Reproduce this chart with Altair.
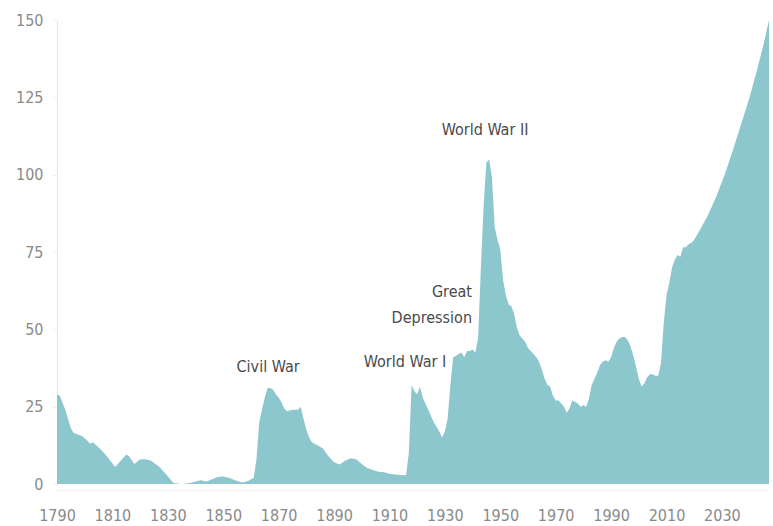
import altair as alt
import pandas as pd

years = [1790, 1791, 1793, 1795, 1796, 1799, 1801, 1802, 1803, 1806, 1808, 1811, 1813, 1815, 1816,
         1818, 1820, 1822, 1824, 1827, 1830, 1832, 1835, 1838, 1840, 1842, 1844, 1846, 1848, 1850,
         1852, 1855, 1857, 1859, 1861, 1862, 1863, 1864, 1865, 1866, 1867, 1868, 1869, 1870, 1871,
         1872, 1873, 1875, 1877, 1878, 1879, 1880, 1881, 1882, 1884, 1886, 1888, 1890, 1892, 1894,
         1896, 1898, 1900, 1902, 1904, 1906, 1908, 1910, 1913, 1916, 1917, 1918, 1919, 1920, 1921,
         1922, 1924, 1926, 1928, 1929, 1930, 1931, 1932, 1933, 1934, 1935, 1936, 1937, 1938, 1939,
         1940, 1941, 1942, 1943, 1944, 1945, 1946, 1947, 1948, 1949, 1950, 1951, 1952, 1953, 1954,
         1955, 1956, 1957, 1958, 1959, 1960, 1961, 1962, 1963, 1964, 1965, 1966, 1967, 1968, 1969,
         1970, 1971, 1972, 1973, 1974, 1975, 1976, 1977, 1978, 1979, 1980, 1981, 1982, 1983, 1984,
         1985, 1986, 1987, 1988, 1989, 1990, 1991, 1992, 1993, 1994, 1995, 1996, 1997, 1998, 1999,
         2000, 2001, 2002, 2003, 2004, 2005, 2006, 2007, 2008, 2009, 2010, 2011, 2012, 2013, 2014,
         2015, 2016, 2017, 2018, 2019, 2020, 2022, 2025, 2028, 2031, 2034, 2037, 2040, 2043, 2045,
         2047]
debt = [29, 28.5, 24, 18, 16.5, 15.5, 14, 13, 13.5, 11, 9, 5.5, 7.5, 9.5, 9,
        6.5, 8, 8, 7.5, 5.5, 2.5, 0.3, 0, 0.3, 0.8, 1.2, 0.8, 1.5, 2.3, 2.4,
        2, 1, 0.5, 1, 2, 8, 20, 24, 28, 31, 31, 30.5, 29, 28, 26.5,
        24.5, 23.5, 24, 24, 25, 21, 17.5, 15, 13.5, 12.5, 11.5, 9, 7, 6.3, 7.5,
        8.3, 8, 6.5, 5.2, 4.5, 4, 3.8, 3.3, 3, 2.8, 10, 32, 30, 29, 31.5,
        28, 24, 20, 17, 15, 17, 21, 32, 41, 41.5, 42, 42.5, 41, 43, 43,
        43.5, 42.5, 47, 70, 90, 104, 105, 99, 83, 79, 76, 66, 61, 58, 57.5,
        55, 50.5, 48, 47, 46, 44, 43, 42, 41, 39.5, 37, 34, 32, 31.5, 28.5,
        27, 27, 26, 25, 23, 24.5, 27, 26.5, 26, 25, 25.5, 25, 27.5, 32, 34,
        36, 38.5, 39.5, 40, 39.5, 41, 44, 46, 47, 47.5, 47.5, 46.5, 44.5, 41.5, 38,
        34, 31.5, 32.5, 34.5, 35.5, 35.5, 35, 35, 39, 52, 61, 65, 70, 72.5, 74,
        73.5, 76.5, 76.5, 77.5, 78, 79, 82, 87, 93, 100, 108, 116.5, 125, 135, 142,
        150]

label_text = ["Civil War", "World War I", "Great", "Depression", "World War II"]
label_year = [1866.2, 1915.6, 1939.8, 1939.8, 1944.5]
label_value = [37.8, 39.4, 62, 53.7, 114.5]
label_align = ["center", "center", "right", "right", "center"]

x_ticks = [1790, 1810, 1830, 1850, 1870, 1890, 1910, 1930, 1950, 1970, 1990, 2010, 2030]
y_ticks = [0, 25, 50, 75, 100, 125, 150]

FONT = "Liberation Sans Narrow, DejaVu Sans Condensed, Roboto, sans-serif"

df = pd.DataFrame({"year": years, "debt": debt})
lab = pd.DataFrame({"text": label_text, "year": label_year, "value": label_value, "align": label_align})

xs = alt.Scale(domain=[1790, 2047], nice=False, zero=False)
ys = alt.Scale(domain=[0, 150], nice=False)

area = alt.Chart(df).mark_area(color="#8CC7CE", opacity=1).encode(
    x=alt.X("year:Q", scale=xs,
            axis=alt.Axis(values=x_ticks, format="d", title=None, grid=False, ticks=False,
                          domain=True, domainColor="#f0f0f0", offset=6, labelPadding=17,
                          labelFlush=False, labelOverlap=False,
                          labelFontSize=16, labelColor="#8a8a8a", labelFont=FONT)),
    y=alt.Y("debt:Q", scale=ys,
            axis=alt.Axis(values=y_ticks, title=None, grid=False, ticks=True, tickSize=4,
                          tickColor="#eeeeee", domainColor="#e4e4e4", labelPadding=10,
                          labelFlush=False,
                          labelFontSize=16, labelColor="#8a8a8a", labelFont=FONT)),
)

centered = alt.Chart(lab[lab["align"] == "center"]).mark_text(
    align="center", baseline="middle", fontSize=16, font=FONT, color="#4a4a4a"
).encode(x=alt.X("year:Q", scale=xs), y=alt.Y("value:Q", scale=ys), text="text:N")

right = alt.Chart(lab[lab["align"] == "right"]).mark_text(
    align="right", baseline="middle", fontSize=16, font=FONT, color="#4a4a4a"
).encode(x=alt.X("year:Q", scale=xs), y=alt.Y("value:Q", scale=ys), text="text:N")

chart = alt.layer(area, centered, right).properties(
    width=712, height=464,
    autosize=alt.AutoSizeParams(type="none"),
    padding={"left": 57, "top": 20, "right": 4, "bottom": 42},
).configure_view(stroke=None)

chart.save("out.html", embed_options={"renderer": "svg", "actions": False})
